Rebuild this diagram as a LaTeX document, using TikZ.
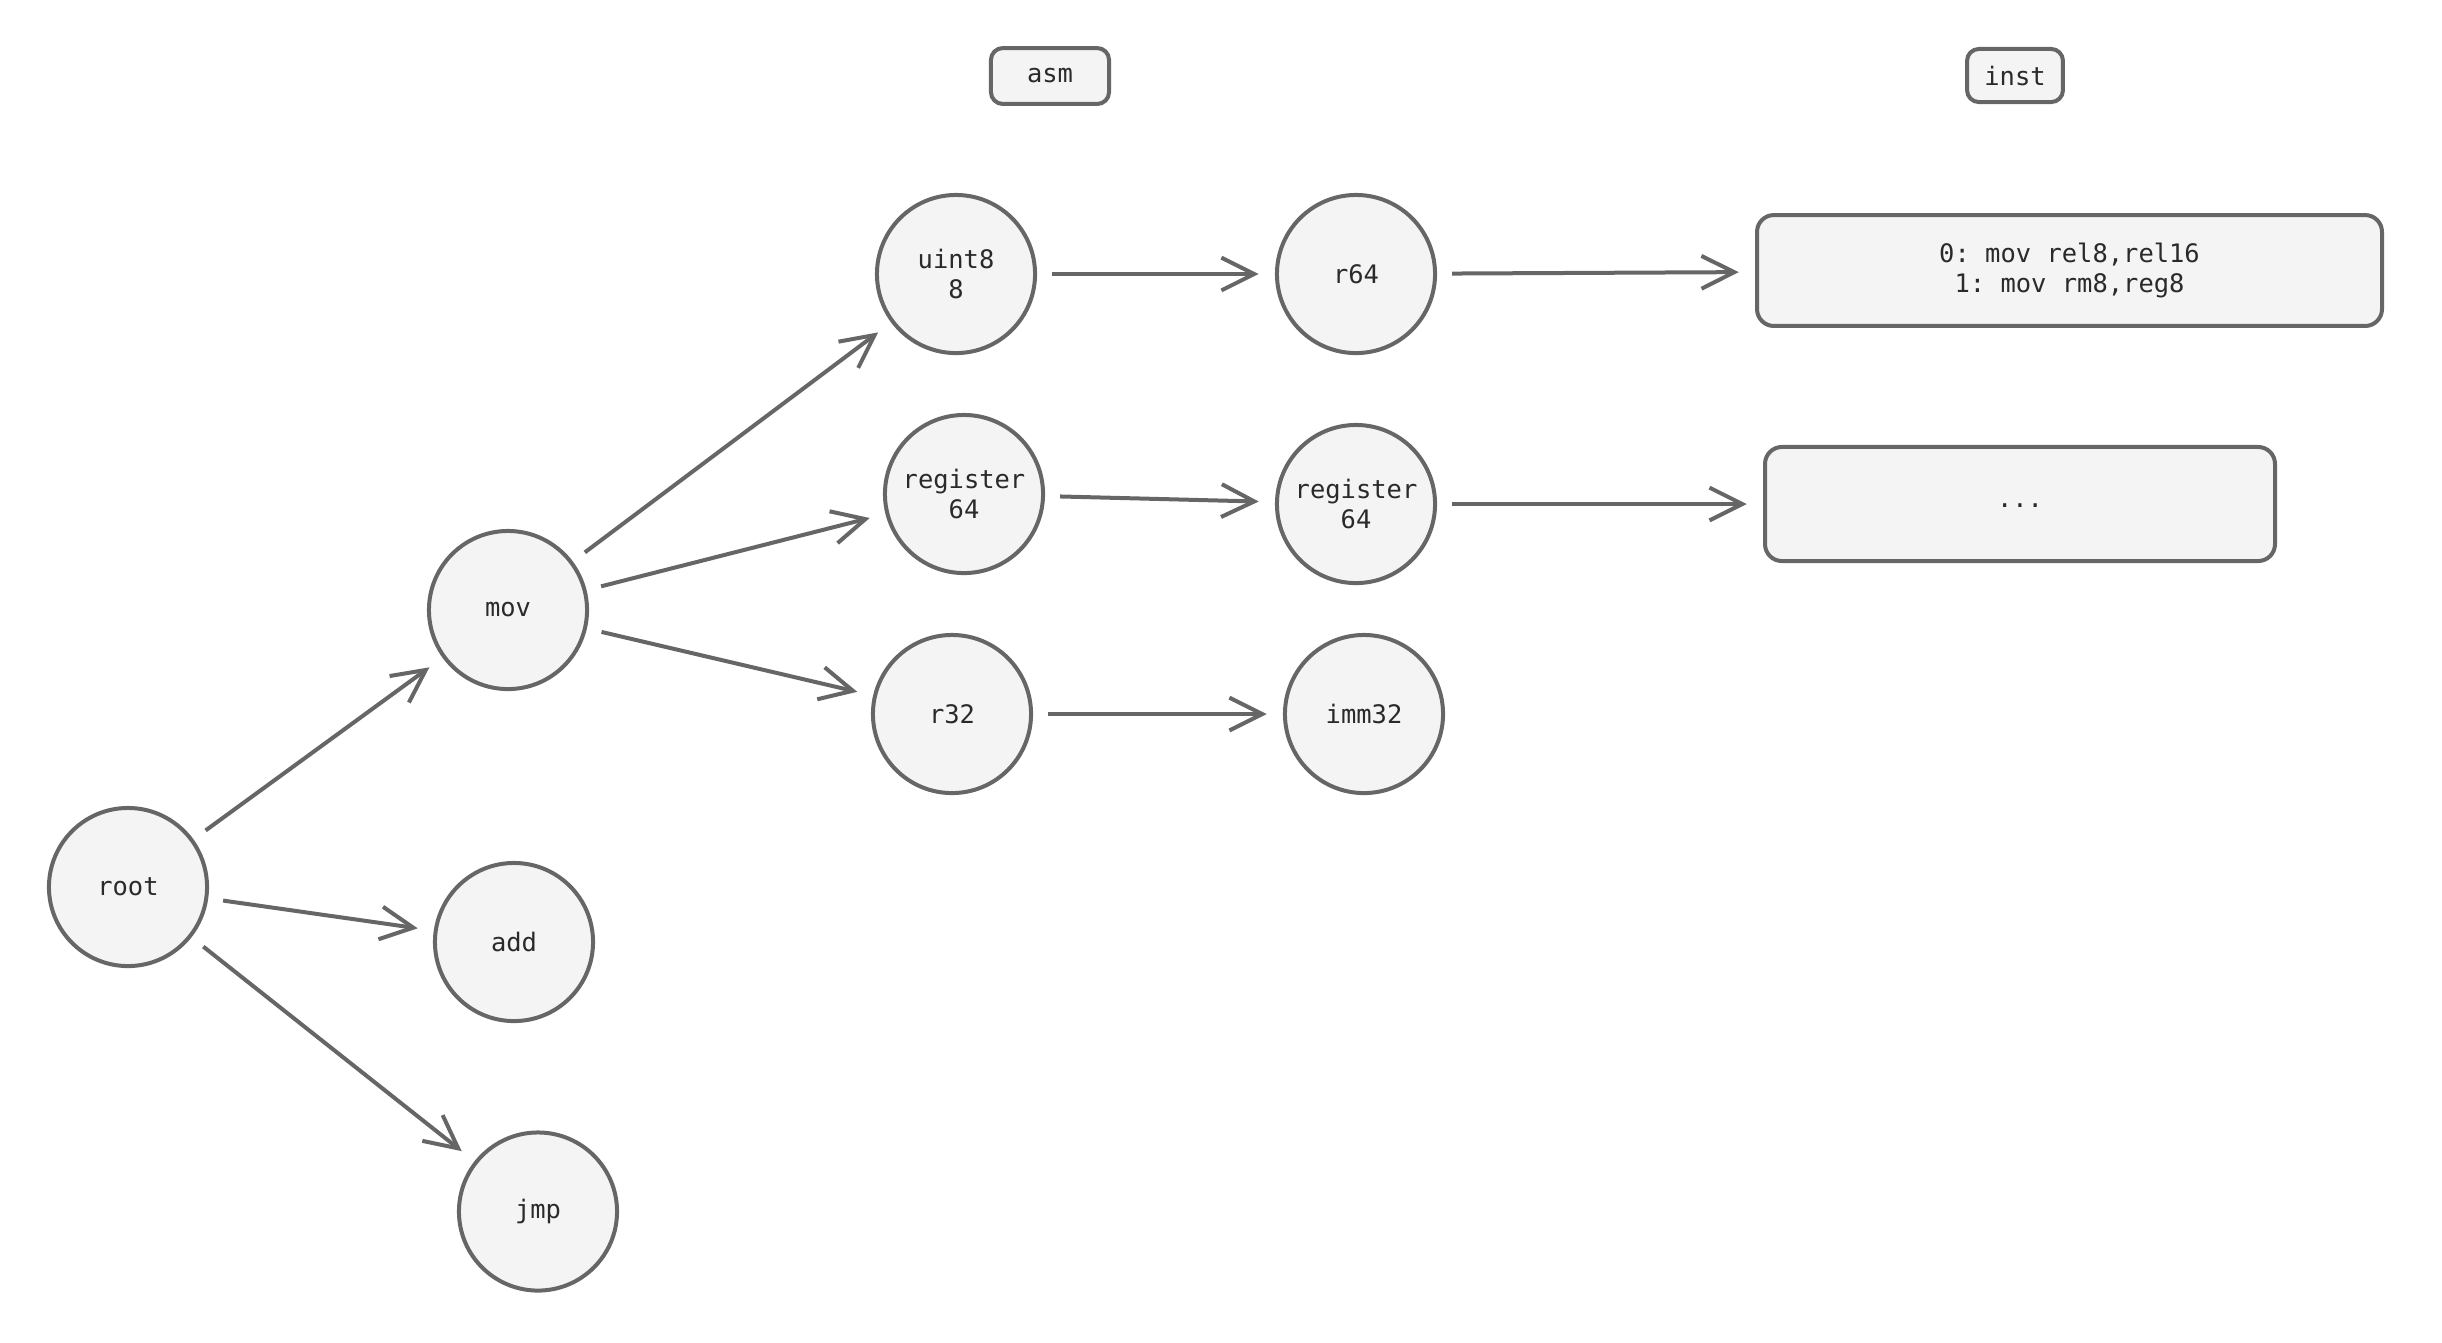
\documentclass[tikz,border=0pt]{standalone}
\usepackage{fontspec}
\setmonofont{DejaVu Sans Mono}
\usetikzlibrary{arrows.meta}

\definecolor{lineGray}{HTML}{666666}
\definecolor{fillGray}{HTML}{F4F4F4}
\definecolor{textGray}{HTML}{2A2A2A}

\begin{document}
\begin{tikzpicture}[x=0.32pt, y=-0.32pt, line width=1.28pt,
        >={Straight Barb[length=10.5pt,width=10.5pt]},
        every node/.style={font=\ttfamily\fontsize{8.15}{9.4}\selectfont, text=textGray},
        state/.style={circle, draw=lineGray, fill=fillGray, minimum size=50.6pt, inner sep=0pt, align=center},
        tag/.style={rectangle, rounded corners=5.4pt, draw=lineGray, fill=fillGray, inner sep=0pt}]
                \useasboundingbox (0,0) rectangle (2442,1342);
                \node[tag, rounded corners=3.8pt, minimum width=37.8pt, minimum height=17.9pt] (asm) at (1050,76) {asm};
                \node[tag, rounded corners=3.8pt, minimum width=30.7pt, minimum height=17pt] (inst) at (2015,75.5) {inst};
                \node[state] (root) at (128,887) {root};
                \node[state] (mov) at (508,610) {mov};
                \node[state] (add) at (514,942) {add};
                \node[state] (jmp) at (538,1211.5) {jmp};
                \node[state] (uint8) at (956,274) {uint8\\8};
                \node[state] (reg_a) at (964,494) {register\\64};
                \node[state] (r32) at (952,714) {r32};
                \node[state] (r64) at (1356,274) {r64};
                \node[state] (reg_b) at (1356,504) {register\\64};
                \node[state] (imm32) at (1364,714) {imm32};
                \node[tag, align=center, minimum width=200pt, minimum height=35.5pt] (inst_a) at (2069.5,270.5) {0: mov rel8,rel16\\1: mov rm8,reg8};
                \node[tag, text height=2pt, text depth=0pt, minimum width=163.2pt, minimum height=36.5pt] (inst_b) at (2020,504) {...};
                \path[->, draw=lineGray, shorten >=5.2pt, shorten <=4.8pt]
                (root) edge (mov)
                (root) edge (add)
                (root) edge (jmp)
                (mov) edge (uint8)
                (mov) edge (reg_a)
                (mov) edge (r32)
                (uint8) edge (r64)
                (reg_a) edge (reg_b)
                (r32) edge (imm32)
                (r64) edge (inst_a)
                (reg_b) edge (inst_b);
        \end{tikzpicture}
\end{document}
